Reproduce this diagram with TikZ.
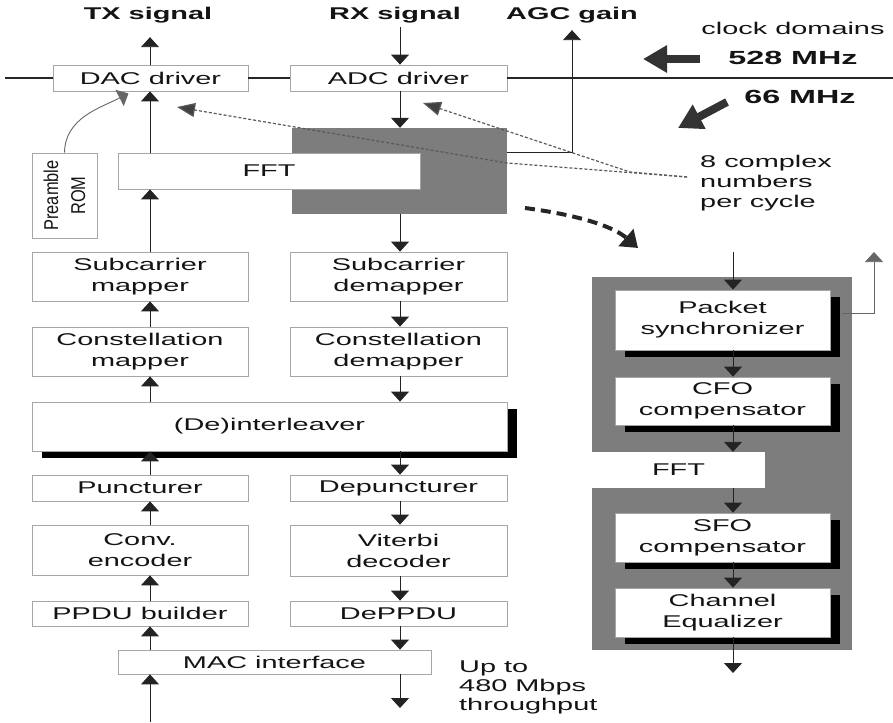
\documentclass[tikz,border=0pt]{standalone}
\usepackage{fontspec}
\setmainfont{Liberation Sans}[FakeStretch=1.7]
\newfontfamily\romfont{Liberation Sans}[FakeStretch=0.82]
\usetikzlibrary{arrows.meta,shadows,calc}
\definecolor{txt}{RGB}{20,20,20}
\definecolor{linec}{RGB}{35,35,35}
\definecolor{blkgray}{RGB}{125,125,125}

\begin{document}
\begin{tikzpicture}[x=1pt,y=-1pt,
    every node/.style={inner sep=0pt, align=center, text=txt, font=\fontsize{17}{21}\selectfont},
    box/.style={draw=gray!70, line width=0.8pt, fill=white, minimum width=#1},
    box/.default=216,
    shbox/.style={box=#1, drop shadow={shadow xshift=10pt, shadow yshift=-7pt, fill=black, opacity=1}},
    shbox/.default=215,
    hd/.style={font=\bfseries\fontsize{17}{21}\selectfont},
    arr/.style={draw=linec, line width=0.9pt, -{Triangle[width=18pt,length=10pt]}},
    note/.style={draw=black!65, line width=1.2pt, dash pattern=on 3pt off 2pt, -{Triangle[width=14pt,length=18pt,fill=black!75]}},
    clk/.style={draw=black!80, line width=8pt, -{Triangle[length=24pt,width=26pt]}},
    flow/.style={draw=black!85, line width=4pt, dash pattern=on 10pt off 6pt, -{Triangle[length=16pt,width=22pt]}}
  ]
  \useasboundingbox (0,0) rectangle (893,722);
  \coordinate (colL) at (150,0);
  \coordinate (colR) at (400,0);
  \coordinate (colP) at (733,0);

  % clock line and drivers
  \node[box=195, minimum height=26] (dac) at (150.5,78) {DAC driver};
  \node[box=217, minimum height=26] (adc) at (398.5,78) {ADC driver};
  \coordinate (clkL) at (5,78);
  \coordinate (clkR) at (893,78);
  \draw[line width=1.3pt, draw=black!85] (clkL) -- (dac.west) (dac.east) -- (adc.west) (adc.east) -- (clkR);
  \node[hd] (tx) at (148,15) {TX signal};
  \node[hd] (rx) at (395,15) {RX signal};
  \node[hd] (agc) at (572,15) {AGC gain};

  % front end
  \node[fill=blkgray, minimum width=215, minimum height=86] (rxblk) at (399.5,171) {};
  \node[box=302, minimum height=36] (fft) at (269,171) {FFT};
  \node[draw=gray!70, line width=0.8pt, fill=white, minimum width=85, minimum height=65, rotate=90,
        font=\romfont\fontsize{20}{27}\selectfont] (rom) at (64.5,195.5) {Preamble\\ROM};

  % tx and rx chains
  \node[box, minimum height=49] (txsub) at (140,276.5) {Subcarrier\\mapper};
  \node[box=217, minimum height=49] (rxsub) at (398.5,276.5) {Subcarrier\\demapper};
  \node[box, minimum height=49] (txcon) at (140,351.5) {Constellation\\mapper};
  \node[box=217, minimum height=49] (rxcon) at (398.5,351.5) {Constellation\\demapper};
  \node[shbox=475, minimum height=49] (ilv) at (269.5,426.5) {(De)interleaver};
  \node[box, minimum height=26] (punc) at (140,488) {Puncturer};
  \node[box=217, minimum height=26] (depunc) at (398.5,488) {Depuncturer};
  \node[box, minimum height=50] (conv) at (140,550) {Conv.\\encoder};
  \node[box=217, minimum height=51] (vit) at (398.5,550.5) {Viterbi\\decoder};
  \node[box, minimum height=25] (ppdu) at (140,613.5) {PPDU builder};
  \node[box=217, minimum height=25] (deppdu) at (398.5,613.5) {DePPDU};
  \node[box=313, minimum height=24] (mac) at (274.5,662) {MAC interface};

  % labels
  \node (dom) at (793,28) {clock domains};
  \node[font=\bfseries\fontsize{19}{21}\selectfont] (f528) at (793,58) {528 MHz};
  \node[font=\bfseries\fontsize{19}{21}\selectfont] (f66) at (800,97) {66 MHz};
  \node[align=left, anchor=west, font=\fontsize{17}{20}\selectfont] (cplx) at (700,183) {8 complex\\numbers\\per cycle};
  \node[align=left, anchor=west, font=\fontsize{17}{19}\selectfont] (tput) at (459,687) {Up to\\480 Mbps\\throughput};

  % clock domain arrows
  \coordinate (a528s) at (700,59);
  \coordinate (a528e) at (643,59);
  \draw[clk] (a528s) -- (a528e);
  \coordinate (a66s) at (727,102);
  \coordinate (a66e) at (678,128);
  \draw[clk] (a66s) -- (a66e);

  % synchronizer detail
  \node[fill=blkgray, minimum width=260, minimum height=373] (rpanel) at (722,463.5) {};
  \node[fill=white, minimum width=173, minimum height=36] (fft2) at (678.5,470) {FFT};
  \node[shbox, minimum height=60] (psync) at (722.5,320) {Packet\\synchronizer};
  \node[shbox, minimum height=48] (cfo) at (722.5,401) {CFO\\compensator};
  \node[shbox, minimum height=49] (sfo) at (722.5,537.5) {SFO\\compensator};
  \node[shbox, minimum height=49] (cheq) at (722.5,612.5) {Channel\\Equalizer};
  \coordinate (pin) at (733,252);
  \coordinate (pout) at (733,673);
  \coordinate (sync) at (874,252);
  \draw[arr] (pin) -- (psync.north -| colP);
  \draw[arr] (psync.south -| colP) -- (cfo.north -| colP);
  \draw[arr] (cfo.south -| colP) -- (fft2.north -| colP);
  \draw[arr] (fft2.south -| colP) -- (sfo.north -| colP);
  \draw[arr] (sfo.south -| colP) -- (cheq.north -| colP);
  \draw[arr] (cheq.south -| colP) -- (pout);
  \draw[arr, draw=gray!80!black, line width=0.7pt] ($(psync.east)+(12,-7)$) -| (sync);

  % tx side
  \coordinate (macin) at (150,722);
  \draw[arr] (macin) -- (mac.south -| colL);
  \draw[arr] (mac.north -| colL) -- (ppdu.south -| colL);
  \draw[arr] (ppdu.north -| colL) -- (conv.south -| colL);
  \draw[arr] (conv.north -| colL) -- (punc.south -| colL);
  \draw[arr] (punc.north -| colL) -- (ilv.south -| colL);
  \draw[arr] (ilv.north -| colL) -- (txcon.south -| colL);
  \draw[arr] (txcon.north -| colL) -- (txsub.south -| colL);
  \draw[arr] (txsub.north -| colL) -- (fft.south -| colL);
  \draw[arr] (fft.north -| colL) -- (dac.south -| colL);
  \draw[arr] (dac.north -| colL) -- ($(tx.south -| colL)+(0,14)$);
  \draw[arr, draw=gray!80!black] (rom.east) .. controls (65,118) and (100,108) .. ($(dac.south)+(-22,2)$);

  % rx side
  \coordinate (macout) at (400,708);
  \draw[arr] ($(rx.south -| colR)+(0,4)$) -- (adc.north -| colR);
  \draw[arr] (adc.south -| colR) -- (rxblk.north -| colR);
  \draw[arr] (rxblk.south -| colR) -- (rxsub.north -| colR);
  \draw[arr] (rxsub.south -| colR) -- (rxcon.north -| colR);
  \draw[arr] (rxcon.south -| colR) -- (ilv.north -| colR);
  \draw[arr] (ilv.south -| colR) -- (depunc.north -| colR);
  \draw[arr] (depunc.south -| colR) -- (vit.north -| colR);
  \draw[arr] (vit.south -| colR) -- (deppdu.north -| colR);
  \draw[arr] (deppdu.south -| colR) -- (mac.north -| colR);
  \draw[arr] (mac.south -| colR) -- (macout);
  \draw[arr] ($(rxblk.north east)+(0,25)$) -| ($(agc.south)+(0,7)$);

  % data width notes
  \coordinate (cplxend) at (687,177);
  \coordinate (dacnote) at (177,107);
  \coordinate (adcnote) at (423,103);
  \draw[note] (cplxend) -- (507,163) -- (dacnote);
  \draw[note] (cplxend) -- (630,172) -- (adcnote);
  \coordinate (fl1) at (525,208);
  \coordinate (fl2) at (638,248);
  \draw[flow] (fl1) .. controls (585,216) and (615,228) .. (fl2);
\end{tikzpicture}
\end{document}
